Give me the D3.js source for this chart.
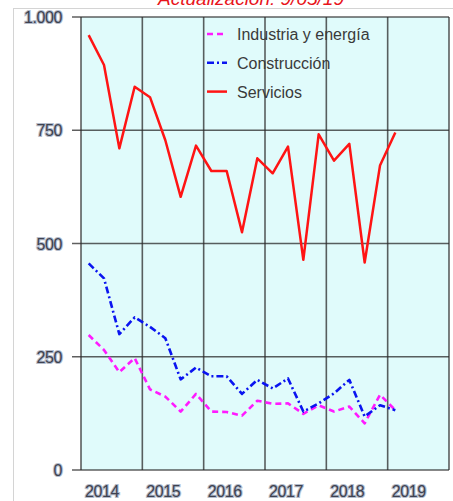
<!DOCTYPE html>
<html><head><meta charset="utf-8">
<script src="https://cdn.jsdelivr.net/npm/d3@7"></script>
<style>
html,body{margin:0;padding:0;background:#fff;}
svg{display:block;}
</style></head>
<body>
<svg id="c" width="453" height="501"></svg>
<script>
// Quarterly data 2014Q1 .. 2019Q1
const quarters = ["2014T1","2014T2","2014T3","2014T4","2015T1","2015T2","2015T3","2015T4","2016T1","2016T2","2016T3","2016T4","2017T1","2017T2","2017T3","2017T4","2018T1","2018T2","2018T3","2018T4","2019T1"];
const industria = [298,265,216,247,178,162,129,168,129,128,120,153,146,147,124,143,129,140,103,166,132];
const construccion = [456,423,300,337,316,291,200,226,207,207,168,199,180,202,129,147,169,199,118,143,132];
const servicios = [960,894,710,846,823,728,603,716,660,660,525,688,655,714,464,741,683,720,458,672,745];
const years = [2014,2015,2016,2017,2018,2019];
const yTicks = [0,250,500,750,1000];
const yTickLabels = ["0","250","500","750","1.000"];
const seriesNames = ["Industria y energía","Construcción","Servicios"];
const title = "Actualización: 9/05/19";

const svg = d3.select("#c");
const L = 81, R = 449, T = 17, B = 470;
const x = d3.scaleLinear().domain([2014, 2020]).range([L, R]);
const y = d3.scaleLinear().domain([0, 1000]).range([B, T]);
const qx = i => x(2014 + (i + 0.5) / 4);
const FONT = "Liberation Sans, Arial, sans-serif";

// outer frame
svg.append("rect").attr("x",13.5).attr("y",8.5).attr("width",460).attr("height",520)
  .attr("fill","none").attr("stroke","#d4d4d4").attr("stroke-width",1);

// title (cut off at top, as in the source)
svg.append("text").attr("x",251).attr("y",5).attr("text-anchor","middle")
  .attr("font-family",FONT).attr("font-style","italic")
  .attr("font-size",19).attr("fill","#e8141b").text(title);

// plot background
svg.append("rect").attr("x",L).attr("y",T).attr("width",R-L).attr("height",B-T)
  .attr("fill","#e0fbfb");

const specs = [
  {data: industria, color:"#ff1aff", dash:"6,4", w:2.6},
  {data: construccion, color:"#0a14f0", dash:"7,3,2,3", w:2.6},
  {data: servicios, color:"#ff1414", dash:null, w:2.5}
];
const line = d3.line().x((d,i)=>qx(i)).y(d=>y(d));

// grid
const grid = svg.append("g").attr("stroke","#2a2a2a").attr("stroke-opacity",0.75).attr("stroke-width",1.6);
d3.range(2014, 2021).forEach(yr => {
  grid.append("line").attr("x1",x(yr)).attr("x2",x(yr)).attr("y1",T).attr("y2",B);
});
yTicks.forEach(v => {
  grid.append("line").attr("x1",72).attr("x2",R).attr("y1",y(v)).attr("y2",y(v));
});

specs.forEach(s => {
  svg.append("path").datum(s.data).attr("d", line)
    .attr("fill","none").attr("stroke", s.color).attr("stroke-width", s.w)
    .attr("stroke-linejoin","round")
    .attr("stroke-dasharray", s.dash);
});

// y tick labels
svg.append("g").selectAll("text").data(yTicks).join("text")
  .attr("x",62).attr("y",d=>y(d)+6).attr("text-anchor","end")
  .attr("font-family",FONT).attr("font-size",16)
  .attr("fill","#3e4250").attr("stroke","#b4bccb").attr("stroke-width",2.2)
  .attr("paint-order","stroke").attr("letter-spacing",-0.4)
  .text((d,i)=>yTickLabels[i]);

// x labels
svg.append("g").selectAll("text").data(years).join("text")
  .attr("x",d=>x(d)+4).attr("y",497).attr("text-anchor","start")
  .attr("font-family",FONT).attr("font-size",16)
  .attr("fill","#3e4250").attr("stroke","#b4bccb").attr("stroke-width",2.2)
  .attr("paint-order","stroke").attr("letter-spacing",-0.4)
  .text(d=>d);

// legend
const leg = svg.append("g");
specs.forEach((s,i) => {
  const ly = 34 + i*28.8;
  leg.append("line").attr("x1",207).attr("x2",227).attr("y1",ly).attr("y2",ly)
    .attr("stroke",s.color).attr("stroke-width",s.w).attr("stroke-dasharray",s.dash);
  leg.append("text").attr("x",237).attr("y",ly+6)
    .attr("font-family",FONT).attr("font-size",16)
    .attr("fill","#3a3a3a").text(seriesNames[i]);
});
</script>
</body></html>
